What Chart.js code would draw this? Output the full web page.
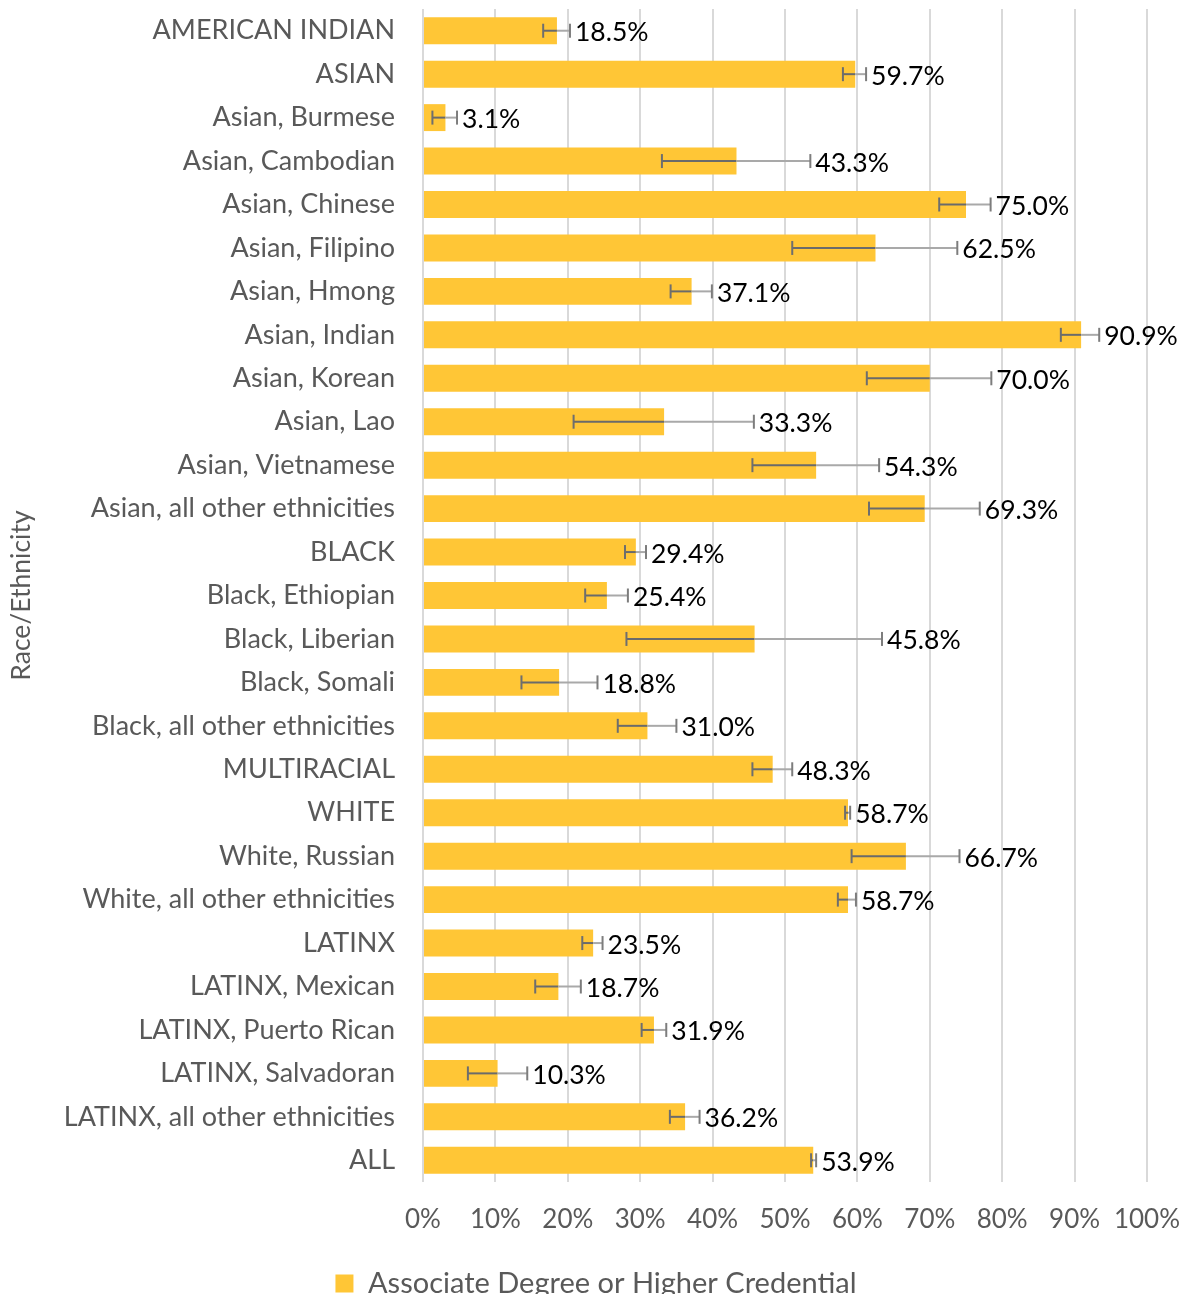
<!DOCTYPE html>
<html>
<head>
<meta charset="utf-8">
<script src="https://cdn.jsdelivr.net/npm/chart.js@4"></script>
<style>
  html, body { margin: 0; padding: 0; background: #fff; }
  #wrap { width: 1192px; height: 1294px; position: relative; }
</style>
</head>
<body>
<div id="wrap"><canvas id="c" width="1192" height="1294"></canvas></div>
<script>
const categories = [
  "AMERICAN INDIAN", "ASIAN", "Asian, Burmese", "Asian, Cambodian", "Asian, Chinese",
  "Asian, Filipino", "Asian, Hmong", "Asian, Indian", "Asian, Korean", "Asian, Lao",
  "Asian, Vietnamese", "Asian, all other ethnicities", "BLACK", "Black, Ethiopian",
  "Black, Liberian", "Black, Somali", "Black, all other ethnicities", "MULTIRACIAL",
  "WHITE", "White, Russian", "White, all other ethnicities", "LATINX", "LATINX, Mexican",
  "LATINX, Puerto Rican", "LATINX, Salvadoran", "LATINX, all other ethnicities", "ALL"
];
const values = [
  18.5, 59.7, 3.1, 43.3, 75.0, 62.5, 37.1, 90.9, 70.0, 33.3, 54.3, 69.3, 29.4, 25.4,
  45.8, 18.8, 31.0, 48.3, 58.7, 66.7, 58.7, 23.5, 18.7, 31.9, 10.3, 36.2, 53.9
];
const errorLow = [
  16.6, 58.0, 1.3, 33.0, 71.3, 51.0, 34.2, 88.1, 61.3, 20.8, 45.5, 61.6, 27.9, 22.4,
  28.1, 13.6, 26.9, 45.5, 58.3, 59.2, 57.3, 22.0, 15.5, 30.2, 6.2, 34.1, 53.6
];
const errorHigh = [
  20.3, 61.2, 4.7, 53.5, 78.4, 73.8, 39.9, 93.4, 78.5, 45.7, 63.0, 76.9, 30.8, 28.3,
  63.4, 24.1, 35.0, 51.0, 59.0, 74.1, 59.8, 24.8, 21.8, 33.6, 14.4, 38.2, 54.3
];
const xTicks = [0, 10, 20, 30, 40, 50, 60, 70, 80, 90, 100];
const seriesName = "Associate Degree or Higher Credential";
const axisTitle = "Race/Ethnicity";

const FONT = "Lato, 'Open Sans', sans-serif";
const GREY = "#595959";

const errorBarsPlugin = {
  id: "errorBars",
  afterDatasetsDraw(chart) {
    const ctx = chart.ctx;
    const xs = chart.scales.x, ys = chart.scales.y;
    ctx.save();
    categories.forEach((c, i) => {
      const y = ys.getPixelForValue(i);
      const xl = xs.getPixelForValue(errorLow[i]);
      const xv = xs.getPixelForValue(values[i]);
      const xh = xs.getPixelForValue(errorHigh[i]);
      ctx.lineWidth = 2;
      ctx.strokeStyle = "#6a6a6a";
      ctx.beginPath(); ctx.moveTo(xl, y); ctx.lineTo(Math.min(xv, xh), y); ctx.stroke();
      if (xh > xv) {
        ctx.strokeStyle = "#a9a9a9";
        ctx.beginPath(); ctx.moveTo(xv, y); ctx.lineTo(xh, y); ctx.stroke();
      }
      ctx.strokeStyle = "#6e6e6e";
      ctx.beginPath(); ctx.moveTo(xl, y - 7); ctx.lineTo(xl, y + 7); ctx.stroke();
      ctx.strokeStyle = "#7d7d7d";
      ctx.beginPath(); ctx.moveTo(xh, y - 7); ctx.lineTo(xh, y + 7); ctx.stroke();
    });
    ctx.restore();
  }
};

const labelsPlugin = {
  id: "valueLabels",
  afterDatasetsDraw(chart) {
    const ctx = chart.ctx;
    const xs = chart.scales.x, ys = chart.scales.y;
    ctx.save();
    ctx.font = "26.5px " + FONT;
    ctx.fillStyle = "#000";
    ctx.textAlign = "left";
    ctx.textBaseline = "middle";
    categories.forEach((c, i) => {
      const y = ys.getPixelForValue(i);
      const x = Math.max(xs.getPixelForValue(errorHigh[i]), xs.getPixelForValue(values[i])) + 5;
      ctx.fillText(values[i].toFixed(1) + "%", x, y + 2);
    });
    ctx.restore();
  }
};

new Chart(document.getElementById("c"), {
  type: "bar",
  data: {
    labels: categories,
    datasets: [{
      label: seriesName,
      data: values,
      backgroundColor: "#FFC636",
      borderWidth: 0,
      categoryPercentage: 1.0,
      barPercentage: 0.62
    }]
  },
  options: {
    indexAxis: "y",
    responsive: false,
    animation: false,
    layout: { padding: { top: 9, right: 0, bottom: -14, left: 0 } },
    plugins: {
      tooltip: { enabled: false },
      legend: {
        position: "bottom",
        labels: {
          color: GREY,
          font: { family: FONT, size: 29 },
          boxWidth: 18,
          boxHeight: 18,
          padding: 10
        }
      }
    },
    scales: {
      x: {
        min: 0,
        max: 100,
        afterBuildTicks: (s) => { s.ticks = xTicks.map(v => ({ value: v })); },
        ticks: {
          color: GREY,
          font: { family: FONT, size: 26 },
          padding: 22,
          maxRotation: 0,
          callback: (v) => v + "%"
        },
        grid: { color: "#d9d9d9", lineWidth: 2, drawTicks: false },
        border: { display: false },
        afterFit: (s) => { s.height = 77; s.paddingLeft = 0; s.paddingRight = 45; }
      },
      y: {
        ticks: {
          color: GREY,
          font: { family: FONT, size: 27 },
          padding: 28,
          autoSkip: false
        },
        grid: { display: false, drawTicks: false },
        border: { display: false },
        title: {
          display: true,
          text: axisTitle,
          color: GREY,
          font: { family: FONT, size: 26.5 },
          padding: { top: 6, bottom: 0 }
        },
        afterFit: (s) => { s.width = 423; s.paddingTop = 0; s.paddingBottom = 0; }
      }
    }
  },
  plugins: [errorBarsPlugin, labelsPlugin]
});
</script>
</body>
</html>
